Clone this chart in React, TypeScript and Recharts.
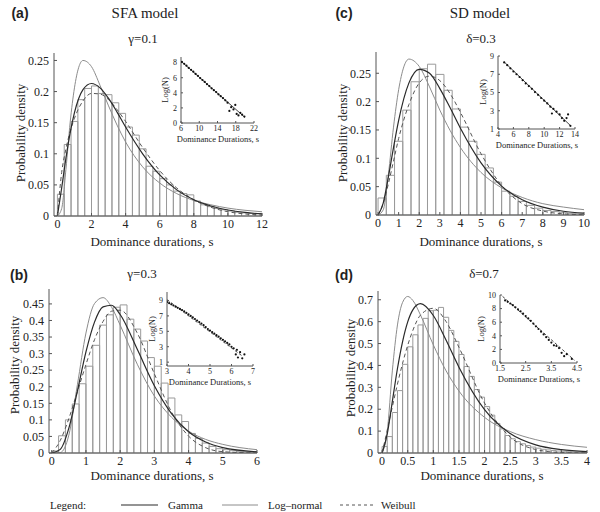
import React from 'react';
import { ComposedChart, Line, XAxis, YAxis, ReferenceArea, ReferenceLine, Scatter } from 'recharts';

const serif = '"Liberation Serif", "DejaVu Serif", serif';
const sans = '"Liberation Sans", Arial, sans-serif';
const ink = '#222';
const frame = '#555';

// (a) SFA model, gamma = 0.1  (bins 0.4 s wide from 0)
const binsA = [0.035, 0.115, 0.152, 0.187, 0.205, 0.209, 0.197, 0.195, 0.182, 0.165, 0.143, 0.13, 0.108, 0.08, 0.072, 0.06, 0.05, 0.04, 0.036, 0.034, 0.024, 0.018, 0.015, 0.012, 0.01, 0.008, 0.006, 0.005, 0.004, 0.004];
const curveXA = [0, 0.25, 0.5, 0.75, 1, 1.5, 2, 2.5, 3, 3.5, 4, 5, 6, 7, 8, 9, 10, 11, 12];
const gammaA = [0, 0.045, 0.093, 0.134, 0.166, 0.203, 0.213, 0.206, 0.189, 0.167, 0.143, 0.1, 0.066, 0.042, 0.026, 0.016, 0.0096, 0.0057, 0.0033];
const lognA = [0, 0.012, 0.075, 0.151, 0.206, 0.25, 0.24, 0.21, 0.177, 0.146, 0.119, 0.079, 0.053, 0.036, 0.025, 0.018, 0.0127, 0.0092, 0.0068];
const weibA = [0, 0.07, 0.108, 0.136, 0.157, 0.185, 0.197, 0.196, 0.187, 0.171, 0.152, 0.11, 0.073, 0.045, 0.026, 0.014, 0.0069, 0.0033, 0.0015];
const insetXA = [6.2, 6.7, 7.2, 7.7, 8.2, 8.7, 9.2, 9.7, 10.2, 10.7, 11.2, 11.7, 12.2, 12.7, 13.2, 13.7, 14.2, 14.7, 15.2, 15.7, 16.2, 16.6, 17.0, 17.5, 17.9, 18.2, 18.6, 19.0, 19.4, 19.9];
const insetYA = [8.1, 7.85, 7.6, 7.3, 7.05, 6.8, 6.5, 6.25, 5.95, 5.7, 5.45, 5.15, 4.9, 4.6, 4.35, 4.1, 3.8, 3.55, 3.3, 3.0, 2.7, 1.6, 2.1, 1.8, 2.4, 1.2, 1.0, 1.35, 1.1, 0.85];
const fitA = [6, 8.2, 20, 0.75];

// (c) SD model, delta = 0.3
const binsC = [0.03, 0.07, 0.13, 0.185, 0.235, 0.258, 0.266, 0.248, 0.22, 0.187, 0.155, 0.13, 0.107, 0.083, 0.058, 0.042, 0.033, 0.024, 0.017, 0.012, 0.008, 0.006, 0.004, 0.003, 0.002];
const curveXC = [0, 0.25, 0.5, 0.75, 1, 1.5, 2, 2.5, 3, 3.5, 4, 5, 6, 7, 8, 9, 10];
const gammaC = [0, 0.021, 0.067, 0.119, 0.167, 0.233, 0.257, 0.25, 0.223, 0.189, 0.153, 0.092, 0.051, 0.027, 0.014, 0.0066, 0.0032];
const lognC = [0, 0.009, 0.071, 0.155, 0.221, 0.275, 0.262, 0.226, 0.185, 0.149, 0.119, 0.075, 0.048, 0.031, 0.02, 0.014, 0.0094];
const weibC = [0, 0.02, 0.055, 0.095, 0.135, 0.195, 0.233, 0.245, 0.237, 0.214, 0.181, 0.108, 0.052, 0.02, 0.007, 0.002, 0.0005];
const insetXC = [4.8, 5.2, 5.6, 6.0, 6.4, 6.8, 7.2, 7.6, 8.0, 8.4, 8.8, 9.2, 9.6, 10.0, 10.4, 10.8, 11.0, 11.2, 11.6, 12.0, 12.3, 12.6, 12.9, 13.1, 13.4];
const insetYC = [8.3, 8.0, 7.65, 7.3, 7.0, 6.7, 6.35, 6.0, 5.7, 5.4, 5.05, 4.75, 4.4, 4.1, 3.8, 3.45, 2.7, 3.2, 2.9, 2.6, 2.2, 1.9, 2.2, 2.6, 1.35];
const fitC = [4.8, 8.35, 13.5, 1.3];

// (b) SFA model, gamma = 0.3  (bins 0.2 s)
const binsB = [0.006, 0.052, 0.1, 0.148, 0.209, 0.262, 0.325, 0.386, 0.417, 0.44, 0.447, 0.404, 0.374, 0.338, 0.288, 0.262, 0.211, 0.166, 0.115, 0.095, 0.059, 0.044, 0.03, 0.02, 0.013, 0.01, 0.007, 0.005, 0.004, 0.003];
const curveXB = [0, 0.25, 0.5, 0.75, 1, 1.25, 1.5, 1.75, 2, 2.5, 3, 3.5, 4, 4.5, 5, 6];
const gammaB = [0, 0.011, 0.075, 0.187, 0.305, 0.395, 0.441, 0.446, 0.418, 0.313, 0.203, 0.119, 0.064, 0.033, 0.016, 0.0035];
const lognB = [0, 0.0013, 0.054, 0.206, 0.362, 0.451, 0.469, 0.44, 0.386, 0.268, 0.172, 0.108, 0.066, 0.041, 0.026, 0.01];
const weibB = [0, 0.038, 0.104, 0.185, 0.267, 0.342, 0.397, 0.428, 0.431, 0.362, 0.239, 0.124, 0.051, 0.016, 0.004, 0.0001];
const insetXB = [3.0, 3.1, 3.2, 3.3, 3.4, 3.5, 3.6, 3.7, 3.8, 3.9, 4.0, 4.1, 4.2, 4.3, 4.4, 4.5, 4.6, 4.7, 4.8, 4.9, 5.0, 5.1, 5.2, 5.3, 5.4, 5.5, 5.6, 5.7, 5.8, 5.9, 6.0, 6.1, 6.2, 6.25, 6.3, 6.4, 6.5, 6.6];
const insetYB = [8.8, 8.65, 8.5, 8.35, 8.2, 8.05, 7.9, 7.75, 7.6, 7.4, 7.2, 7.0, 6.8, 6.6, 6.4, 6.2, 6.0, 5.8, 5.55, 5.3, 5.1, 4.9, 4.7, 4.5, 4.3, 4.1, 3.9, 3.7, 3.5, 3.3, 3.0, 2.8, 2.0, 2.6, 1.6, 2.3, 1.5, 2.0];
const fitB = [3, 9.1, 6.5, 1.8];

// (d) SD model, delta = 0.7  (bins 0.1 s)
const binsD = [0.03, 0.075, 0.185, 0.285, 0.405, 0.485, 0.54, 0.585, 0.615, 0.65, 0.652, 0.665, 0.62, 0.56, 0.51, 0.45, 0.395, 0.35, 0.29, 0.255, 0.212, 0.173, 0.135, 0.11, 0.08, 0.065, 0.052, 0.042, 0.034, 0.027, 0.022, 0.017, 0.014, 0.011, 0.009, 0.008, 0.006, 0.005, 0.004, 0.003];
const curveXD = [0, 0.1, 0.2, 0.3, 0.4, 0.5, 0.6, 0.75, 1, 1.25, 1.5, 2, 2.5, 3, 3.5, 4];
const gammaD = [0, 0.086, 0.236, 0.386, 0.509, 0.599, 0.654, 0.682, 0.628, 0.515, 0.392, 0.198, 0.089, 0.037, 0.015, 0.006];
const lognD = [0, 0.098, 0.375, 0.585, 0.688, 0.715, 0.697, 0.63, 0.494, 0.375, 0.283, 0.163, 0.098, 0.061, 0.039, 0.026];
const weibD = [0, 0.104, 0.211, 0.315, 0.41, 0.492, 0.56, 0.63, 0.661, 0.6, 0.483, 0.228, 0.073, 0.016, 0.002, 0.0002];
const insetXD = [1.7, 1.8, 1.9, 2.0, 2.1, 2.2, 2.3, 2.4, 2.5, 2.6, 2.7, 2.8, 2.9, 3.0, 3.1, 3.2, 3.3, 3.4, 3.5, 3.6, 3.7, 3.8, 3.9, 4.0, 4.1, 4.3];
const insetYD = [9.2, 9.0, 8.75, 8.5, 8.2, 7.9, 7.6, 7.25, 6.9, 6.55, 6.2, 5.8, 5.4, 5.0, 4.6, 4.2, 3.8, 3.4, 3.0, 2.6, 2.5, 2.2, 1.5, 1.0, 1.3, 0.6];
const fitD = [1.6, 9.8, 4.4, 0.4];

const Panel = ({ box, xDomain, xTicks, yDomain, yTicks, binWidth, bins, curveX, gamma, logn, weib }: any) => {
  const [px, py, pw, ph] = box;
  const yw = 40, xh = 24, mt = 4, mr = 12;
  const rows = curveX.map((x: number, i: number) => ({ x, g: gamma[i], l: logn[i], w: weib[i] }));
  const tickFont = { fill: ink, fontSize: 12, fontFamily: serif };
  return (
    <div style={{ position: 'absolute', left: px - yw, top: py - mt }}>
      <ComposedChart width={yw + pw + mr} height={mt + ph + xh} data={rows} margin={{ top: mt, right: mr, bottom: 0, left: 0 }}>
        <XAxis dataKey="x" type="number" domain={xDomain} ticks={xTicks} allowDataOverflow height={xh}
          tick={tickFont} tickSize={-3} tickMargin={6} stroke={frame} interval={0} />
        <XAxis xAxisId="top" orientation="top" dataKey="x" type="number" domain={xDomain} ticks={xTicks} allowDataOverflow
          height={0} tick={false} tickSize={-3} stroke={frame} interval={0} />
        <YAxis type="number" domain={yDomain} ticks={yTicks} allowDataOverflow width={yw}
          tick={tickFont} tickSize={-3} tickMargin={8} stroke={frame} interval={0} />
        <YAxis yAxisId="right" orientation="right" type="number" domain={yDomain} ticks={yTicks} allowDataOverflow
          width={0} tick={false} tickSize={-3} stroke={frame} interval={0} />
        {bins.map((h: number, i: number) => (
          <ReferenceArea key={i} x1={i * binWidth} x2={(i + 1) * binWidth} y1={0} y2={h}
            stroke="#9a9a9a" strokeWidth={1} fill="none" fillOpacity={0} />
        ))}
        <Line dataKey="l" type="monotone" stroke="#8c8c8c" strokeWidth={1} dot={false} isAnimationActive={false} />
        <Line dataKey="w" type="monotone" stroke="#555" strokeWidth={1} strokeDasharray="4 3" dot={false} isAnimationActive={false} />
        <Line dataKey="g" type="monotone" stroke="#2a2a2a" strokeWidth={1.2} dot={false} isAnimationActive={false} />
      </ComposedChart>
    </div>
  );
};

const Inset = ({ box, xDomain, xTicks, yDomain, yTicks, xs, ys, fit, dashed }: any) => {
  const [px, py, pw, ph] = box;
  const yw = 14, xh = 12, mt = 6, mr = 8;
  const pts = xs.map((x: number, i: number) => ({ x, y: ys[i] }));
  const tickFont = { fill: ink, fontSize: 8, fontFamily: serif };
  return (
    <div style={{ position: 'absolute', left: px - yw, top: py - mt }}>
      <ComposedChart width={yw + pw + mr} height={mt + ph + xh} margin={{ top: mt, right: mr, bottom: 0, left: 0 }}>
        <ReferenceArea x1={xDomain[0]} x2={xDomain[1]} y1={yDomain[0]} y2={yDomain[1]} fill="#fff" fillOpacity={1} stroke="none" />
        <XAxis dataKey="x" type="number" domain={xDomain} ticks={xTicks} allowDataOverflow height={xh}
          tick={tickFont} tickSize={-2} tickMargin={4} stroke={frame} interval={0} />
        <XAxis xAxisId="top" orientation="top" dataKey="x" type="number" domain={xDomain} ticks={xTicks} allowDataOverflow
          height={0} tick={false} tickSize={-2} stroke={frame} interval={0} />
        <YAxis dataKey="y" type="number" domain={yDomain} ticks={yTicks} allowDataOverflow width={yw}
          tick={tickFont} tickSize={-2} tickMargin={6} stroke={frame} interval={0} />
        <YAxis yAxisId="right" orientation="right" dataKey="y" type="number" domain={yDomain} ticks={yTicks} allowDataOverflow
          width={0} tick={false} tickSize={-2} stroke={frame} interval={0} />
        <ReferenceLine segment={[{ x: fit[0], y: fit[1] }, { x: fit[2], y: fit[3] }]} stroke="#444" strokeWidth={1}
          strokeDasharray={dashed ? '3 2' : undefined} />
        <Scatter data={pts} isAnimationActive={false}
          shape={(p: any) => <circle cx={p.cx} cy={p.cy} r={1.1} fill="#111" />} />
      </ComposedChart>
    </div>
  );
};

const T = ({ x, y, size = 13, anchor = 'middle', rotate = false, bold = false, font = serif, children }: any) => (
  <text x={rotate ? 0 : x} y={rotate ? 0 : y} transform={rotate ? `translate(${x},${y}) rotate(-90)` : undefined}
    textAnchor={anchor} fontSize={size} fontFamily={font} fontWeight={bold ? 'bold' : 'normal'} fill={ink}
    dominantBaseline={rotate ? 'central' : 'auto'}>
    {children}
  </text>
);

export default function App() {
  return (
    <div style={{ position: 'absolute', left: 0, top: 0, width: 600, height: 512, background: '#fff', overflow: 'hidden' }}>
      <Panel box={[54, 53, 208, 163]} xDomain={[-0.2, 12]} xTicks={[0, 2, 4, 6, 8, 10, 12]}
        yDomain={[0, 0.262]} yTicks={[0, 0.05, 0.1, 0.15, 0.2, 0.25]} binWidth={0.4} bins={binsA}
        curveX={curveXA} gamma={gammaA} logn={lognA} weib={weibA} />
      <Panel box={[376, 52, 208, 163]} xDomain={[-0.1, 10]} xTicks={[0, 1, 2, 3, 4, 5, 6, 7, 8, 9, 10]}
        yDomain={[0, 0.2875]} yTicks={[0, 0.05, 0.1, 0.15, 0.2, 0.25]} binWidth={0.4} bins={binsC}
        curveX={curveXC} gamma={gammaC} logn={lognC} weib={weibC} />
      <Panel box={[49, 289, 208, 164]} xDomain={[-0.08, 6]} xTicks={[0, 1, 2, 3, 4, 5, 6]}
        yDomain={[0, 0.495]} yTicks={[0, 0.05, 0.1, 0.15, 0.2, 0.25, 0.3, 0.35, 0.4, 0.45]} binWidth={0.2} bins={binsB}
        curveX={curveXB} gamma={gammaB} logn={lognB} weib={weibB} />
      <Panel box={[378, 291, 209, 162]} xDomain={[-0.08, 4]} xTicks={[0, 0.5, 1, 1.5, 2, 2.5, 3, 3.5, 4]}
        yDomain={[0, 0.74]} yTicks={[0, 0.1, 0.2, 0.3, 0.4, 0.5, 0.6, 0.7]} binWidth={0.1} bins={binsD}
        curveX={curveXD} gamma={gammaD} logn={lognD} weib={weibD} />

      <Inset box={[181, 57, 73, 66]} xDomain={[6, 22]} xTicks={[6, 10, 14, 18, 22]} yDomain={[0, 8.75]} yTicks={[0, 2, 4, 6, 8]}
        xs={insetXA} ys={insetYA} fit={fitA} />
      <Inset box={[498, 56, 77, 73]} xDomain={[4, 14]} xTicks={[4, 6, 8, 10, 12, 14]} yDomain={[1, 9]} yTicks={[1, 3, 5, 7, 9]}
        xs={insetXC} ys={insetYC} fit={fitC} />
      <Inset box={[167, 292, 86, 74]} xDomain={[3, 7]} xTicks={[3, 4, 5, 6, 7]} yDomain={[0.5, 10.1]} yTicks={[1, 3, 5, 7, 9]}
        xs={insetXB} ys={insetYB} fit={fitB} dashed />
      <Inset box={[500, 295, 77, 68]} xDomain={[1.5, 4.5]} xTicks={[1.5, 2.5, 3.5, 4.5]} yDomain={[0, 10]} yTicks={[0, 2, 4, 6, 8, 10]}
        xs={insetXD} ys={insetYD} fit={fitD} dashed />

      <svg width={600} height={512} style={{ position: 'absolute', left: 0, top: 0, pointerEvents: 'none' }}>
        <T x={20} y={18} size={14} bold font={sans}>(a)</T>
        <T x={145} y={18} size={15}>SFA model</T>
        <T x={143} y={43}>γ=0.1</T>
        <T x={20} y={133} rotate>Probability density</T>
        <T x={152} y={246}>Dominance durations, s</T>
        <T x={165} y={90} size={8.5} rotate>Log(N)</T>
        <T x={218} y={142} size={8.5}>Dominance Durations, s</T>

        <T x={344} y={18} size={14} bold font={sans}>(c)</T>
        <T x={480} y={18} size={15}>SD model</T>
        <T x={481} y={43}>δ=0.3</T>
        <T x={342} y={133} rotate>Probability density</T>
        <T x={481} y={246}>Dominance durations, s</T>
        <T x={483} y={92} size={8.5} rotate>Log(N)</T>
        <T x={537} y={148} size={8.5}>Dominance Durations, s</T>

        <T x={19} y={280} size={14} bold font={sans}>(b)</T>
        <T x={142} y={278}>γ=0.3</T>
        <T x={14} y={365} rotate>Probability density</T>
        <T x={152} y={480}>Dominance durations, s</T>
        <T x={152} y={329} size={8.5} rotate>Log(N)</T>
        <T x={210} y={385} size={8.5}>Dominance Durations, s</T>

        <T x={344} y={280} size={14} bold font={sans}>(d)</T>
        <T x={484} y={278}>δ=0.7</T>
        <T x={350} y={368} rotate>Probability density</T>
        <T x={482} y={480}>Dominance durations, s</T>
        <T x={481} y={329} size={8.5} rotate>Log(N)</T>
        <T x={539} y={382} size={8.5}>Dominance Durations, s</T>

        <T x={50} y={509} size={11} anchor="start">Legend:</T>
        <line x1={121} y1={505} x2={158} y2={505} stroke="#2a2a2a" strokeWidth={1.2} />
        <T x={168} y={509} size={11} anchor="start">Gamma</T>
        <line x1={222} y1={505} x2={258} y2={505} stroke="#8c8c8c" strokeWidth={1} />
        <T x={268} y={509} size={11} anchor="start">Log–normal</T>
        <line x1={340} y1={505} x2={375} y2={505} stroke="#555" strokeWidth={1} strokeDasharray="3 3" />
        <T x={381} y={509} size={11} anchor="start">Weibull</T>
      </svg>
    </div>
  );
}
